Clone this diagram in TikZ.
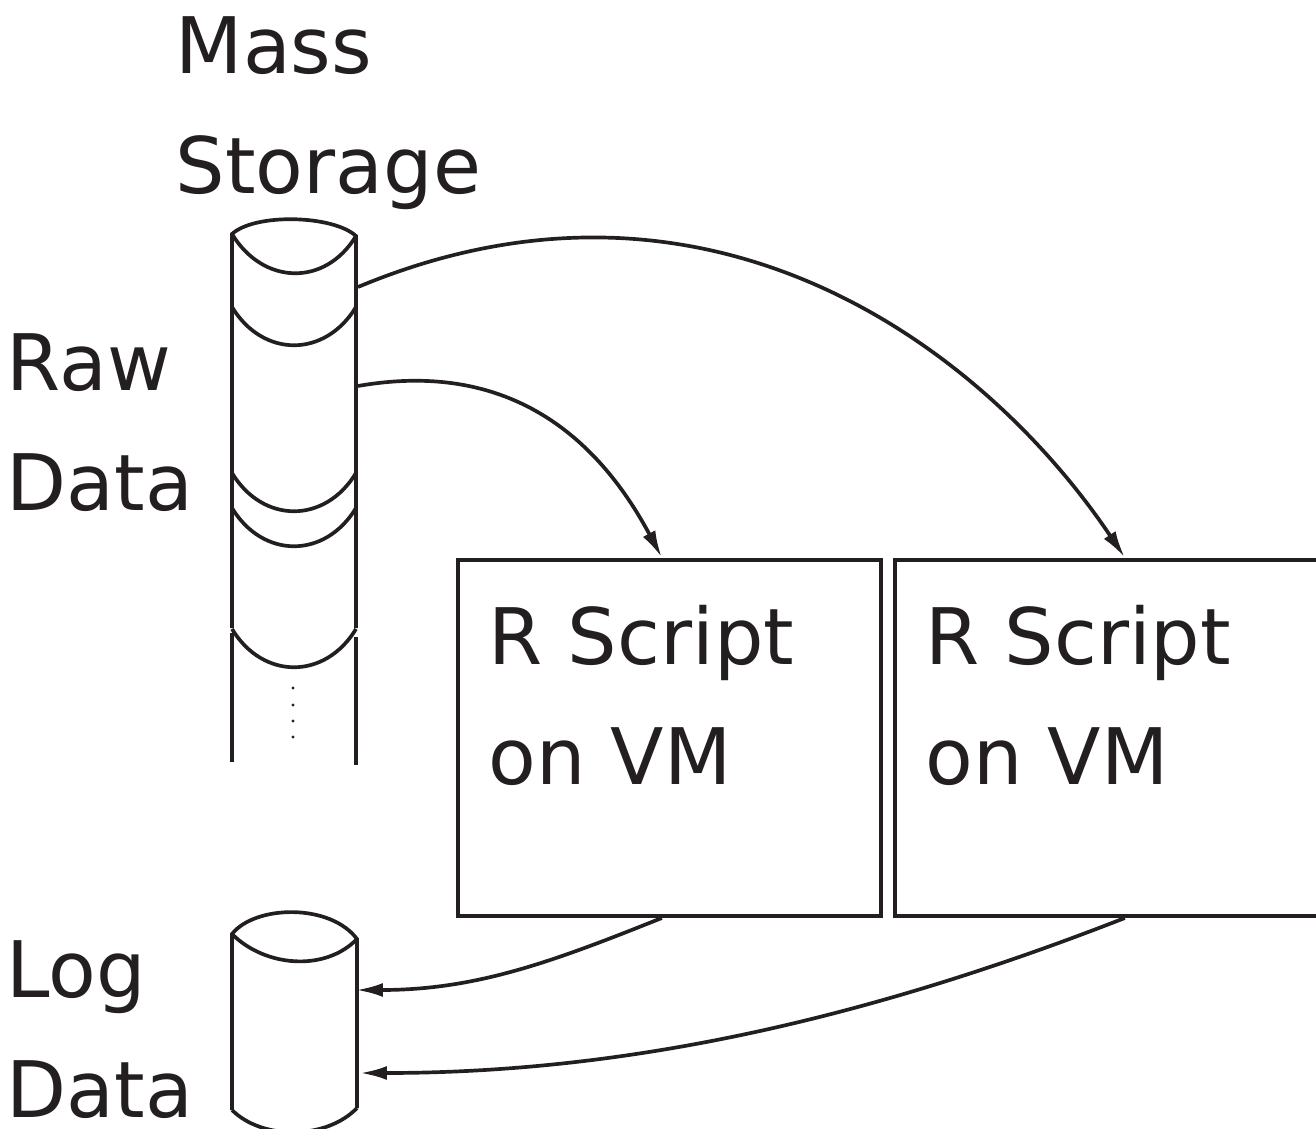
\documentclass[tikz,border=0pt]{standalone}
\usepackage{fontspec}
\setmainfont{DejaVu Sans}
\usetikzlibrary{positioning, arrows.meta, calc}
\definecolor{inkblack}{HTML}{231F20}

\begin{document}
\begin{tikzpicture}[
  x=0.02cm, y=-0.02cm,
  line width=2.1pt, draw=inkblack, text=inkblack,
  lbl/.style={inner sep=0pt, anchor=north west, align=left, text depth=0pt,
              font=\fontsize{44.4}{68.3}\selectfont},
  vmbox/.style={draw, line width=2.3pt, minimum width=8.46cm,
                minimum height=7.13cm, inner sep=0pt},
  flow/.style={-{Latex[length=0.54cm, width=0.28cm]}},
]
  \useasboundingbox (0,0) rectangle (1316,1129);
  \clip (0,0) rectangle (1316,1129);

  % Labels
  \node[lbl] (storelbl) at (174,15) {Mass\\Storage};
  \node[lbl] (rawlbl) at (5,332) {Raw\\Data};
  \node[lbl] (loglbl) at (5,939) {Log\\Data};

  % Mass storage cylinder
  \draw (232,628) -- (232,234) .. controls (255,213) and (333,215) .. (356,236)
        -- (356,628);
  \draw (232,234) .. controls (263,285) and (325,287) .. (356,236);
  \foreach \s in {307,473,508,629}
    \draw (232,\s) .. controls (263,\s+51) and (325,\s+51) .. (356,\s);
  \draw (232,633) -- (232,762);
  \draw (356,637) -- (356,765);
  \foreach \d in {688,705,721,737}
    \fill[inkblack] (293,\d) circle[radius=1.6];

  % Log cylinder
  \draw (232,1110) -- (232,934) .. controls (255,905) and (330,903) .. (357,939)
        -- (357,1108);
  \draw (232,934) .. controls (265,967) and (325,972) .. (357,939);
  \draw (232,1110) .. controls (262,1140) and (326,1140) .. (357,1108);

  % Ports on the cylinders
  \coordinate (rawout1) at (358,287);
  \coordinate (rawout2) at (358,386);
  \coordinate (login1) at (356,990);
  \coordinate (login2) at (360,1073);

  % VM boxes
  \node[vmbox] (vm1) at (669.5,737.75) {};
  \node[vmbox, right=0.2cm of vm1] (vm2) {};
  \node[lbl] (vm1txt) at ($(vm1.north west)+(31,45.5)$) {R Script\\on VM};
  \node[lbl] (vm2txt) at ($(vm2.north west)+(31,45.5)$) {R Script\\on VM};

  % Arrows
  \draw[flow] (rawout1) .. controls (710,140) and (985,349)
    .. ($(vm2.north west)!0.543!(vm2.north east)$);
  \draw[flow] (rawout2) .. controls (506,360) and (596,434)
    .. ($(vm1.north west)!0.482!(vm1.north east)$);
  \draw[flow] ($(vm1.south west)!0.482!(vm1.south east)$)
    .. controls (552,962) and (476,990) .. (login1);
  \draw[flow] ($(vm2.south west)!0.543!(vm2.south east)$)
    .. controls (846,1027) and (610,1073) .. (login2);
\end{tikzpicture}
\end{document}
